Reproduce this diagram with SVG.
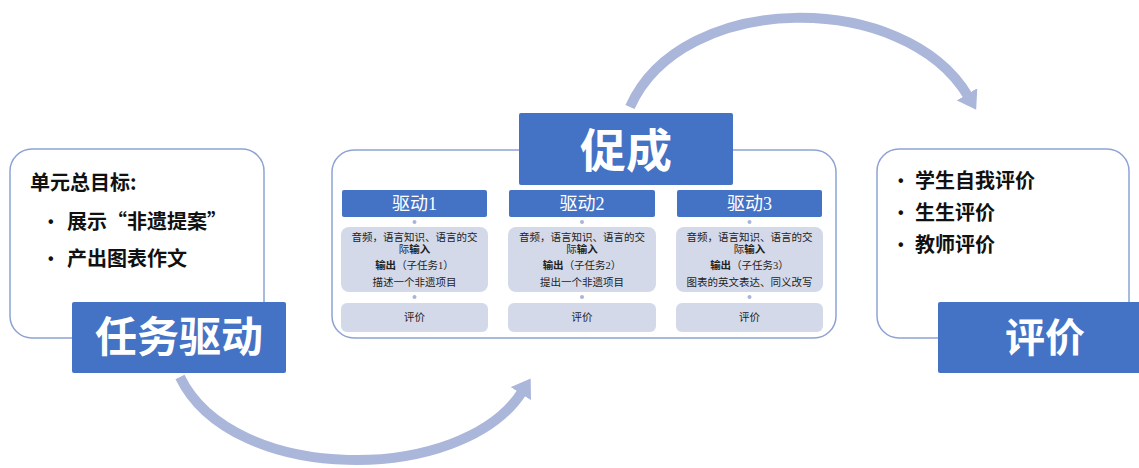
<svg xmlns="http://www.w3.org/2000/svg" width="1139" height="468" viewBox="0 0 1139 468">
<style>
.frame{fill:#fff;stroke:#8ea3d4;stroke-width:1.5}
.blue{fill:#4472c4}
.big{font-family:"Liberation Serif","Noto Sans CJK SC",serif;font-weight:bold;fill:#fff;text-anchor:middle}
.hdr{font-family:"Liberation Serif","Noto Sans CJK SC",serif;font-size:18px;fill:#fff;text-anchor:middle}
.lav{fill:#d4d9ea}
.dot{fill:#a9b5d8}
.sm{font-family:"Liberation Serif","Noto Sans CJK SC",serif;font-size:10.5px;fill:#222;text-anchor:middle}
.b{font-weight:bold}
.txt{font-family:"Noto Sans CJK SC","Liberation Serif",sans-serif;font-size:20px;font-weight:bold;fill:#111}
.bul{font-family:"Liberation Sans",sans-serif;font-size:16px;font-weight:bold;fill:#111}
.arc{fill:none;stroke:#aab6da;stroke-width:10}
</style>
<defs>
<marker id="ah" markerUnits="userSpaceOnUse" markerWidth="18" markerHeight="24" refX="2" refY="12" orient="auto">
<path d="M0,0 L18,12 L0,24 z" fill="#aab6da"/>
</marker>
</defs>
<g id="connectors">
<path class="arc" d="M180,377 C232,485 462,485 522,392" marker-end="url(#ah)"/>
<path class="arc" d="M630,107 C682,-10 905,-10 968,96" marker-end="url(#ah)"/>
</g>
<g id="node-task">
<rect class="frame" x="10" y="149" width="254" height="189" rx="22"/>
<text class="txt" x="30" y="190">单元总目标:</text>
<text class="bul" x="48" y="227">•</text>
<text class="txt" x="67" y="229">展示“非遗提案”</text>
<text class="bul" x="48" y="264">•</text>
<text class="txt" x="67" y="266">产出图表作文</text>
<rect class="blue" x="72" y="302" width="214" height="71" rx="2"/>
<text class="big" x="179" y="352" font-size="42">任务驱动</text>
</g>
<g id="node-cucheng">
<rect class="frame" x="332" y="150" width="504" height="188" rx="22"/>
<rect class="blue" x="519" y="113" width="214" height="72" rx="2"/>
<text class="big" x="626" y="167" font-size="46">促成</text>
</g>
<g id="node-drive1">
<rect class="blue" x="342" y="190" width="145" height="27" rx="2"/>
<text class="hdr" x="414.5" y="210">驱动1</text>
<circle class="dot" cx="414.5" cy="222" r="2"/>
<rect class="lav" x="341" y="227" width="147" height="65" rx="8"/>
<text class="sm" x="414.5" y="241">音频，语言知识、语言的交</text>
<text class="sm" x="414.5" y="253">际<tspan class="b">输入</tspan></text>
<text class="sm" x="414.5" y="269"><tspan class="b">输出</tspan>（子任务1）</text>
<text class="sm" x="414.5" y="286">描述一个非遗项目</text>
<circle class="dot" cx="414.5" cy="297" r="2"/>
<rect class="lav" x="341" y="303" width="147" height="29" rx="6"/>
<text class="sm" x="414.5" y="321">评价</text>
</g>
<g id="node-drive2">
<rect class="blue" x="509" y="190" width="146" height="27" rx="2"/>
<text class="hdr" x="582" y="210">驱动2</text>
<circle class="dot" cx="582" cy="222" r="2"/>
<rect class="lav" x="508" y="227" width="148" height="65" rx="8"/>
<text class="sm" x="582" y="241">音频，语言知识、语言的交</text>
<text class="sm" x="582" y="253">际<tspan class="b">输入</tspan></text>
<text class="sm" x="582" y="269"><tspan class="b">输出</tspan>（子任务2）</text>
<text class="sm" x="582" y="286">提出一个非遗项目</text>
<circle class="dot" cx="582" cy="297" r="2"/>
<rect class="lav" x="508" y="303" width="148" height="29" rx="6"/>
<text class="sm" x="582" y="321">评价</text>
</g>
<g id="node-drive3">
<rect class="blue" x="677" y="190" width="145" height="27" rx="2"/>
<text class="hdr" x="749.5" y="210">驱动3</text>
<circle class="dot" cx="749.5" cy="222" r="2"/>
<rect class="lav" x="676" y="227" width="147" height="65" rx="8"/>
<text class="sm" x="749.5" y="241">音频，语言知识、语言的交</text>
<text class="sm" x="749.5" y="253">际<tspan class="b">输入</tspan></text>
<text class="sm" x="749.5" y="269"><tspan class="b">输出</tspan>（子任务3）</text>
<text class="sm" x="749.5" y="286">图表的英文表达、同义改写</text>
<circle class="dot" cx="749.5" cy="297" r="2"/>
<rect class="lav" x="676" y="303" width="147" height="29" rx="6"/>
<text class="sm" x="749.5" y="321">评价</text>
</g>
<g id="node-eval">
<rect class="frame" x="877" y="149" width="252" height="189" rx="22"/>
<text class="bul" x="898" y="186">•</text>
<text class="txt" x="915" y="188">学生自我评价</text>
<text class="bul" x="898" y="218">•</text>
<text class="txt" x="915" y="220">生生评价</text>
<text class="bul" x="898" y="250">•</text>
<text class="txt" x="915" y="252">教师评价</text>
<rect class="blue" x="938" y="302" width="203" height="71" rx="2"/>
<text class="big" x="1045" y="352" font-size="40">评价</text>
</g>
</svg>
